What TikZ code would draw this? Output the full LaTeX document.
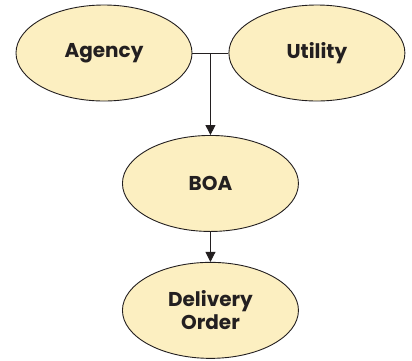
\documentclass[tikz,border=0pt]{standalone}
\usepackage{fontspec}
\setmainfont{Poppins}
\usepackage{tikz}
\usetikzlibrary{positioning, calc, shapes.geometric, arrows.meta}

\definecolor{ovalfill}{HTML}{FCEFC1}
\definecolor{inkline}{HTML}{231F20}

\begin{document}
\begin{tikzpicture}[
    x=1pt, y=1pt,
    oval/.style={ellipse, draw=inkline, fill=ovalfill, line width=0.9pt,
        minimum width=176pt, minimum height=96pt, inner sep=0pt,
        align=center, text=inkline, font=\fontsize{20}{23}\selectfont\bfseries},
    link/.style={draw=inkline, line width=0.9pt},
    flow/.style={link, -{Triangle[width=10pt, length=10pt]}}
]
\useasboundingbox (0,0) rectangle (412,-360);

% Parties at the top
\node[oval] (agency) at (104,-53) {Agency};
\node[oval, right=36pt of agency] (utility) {Utility};
\coordinate (join) at ($(agency.east)!0.5!(utility.west)$);

% Agreement and order below
\node[oval, below=82pt of join] (boa) {BOA};
\node[oval, below=30pt of boa] (order) {Delivery\\Order};

% Connectors
\draw[link] (agency.east) -- (utility.west);
\draw[flow] (join) -- (boa.north);
\draw[flow] (boa.south) -- (order.north);

\end{tikzpicture}
\end{document}
